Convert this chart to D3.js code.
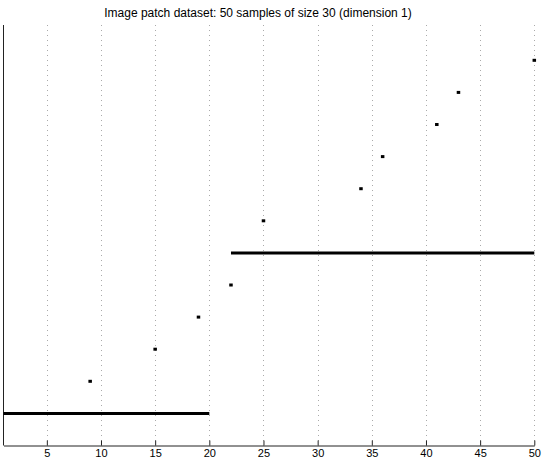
<!DOCTYPE html>
<html>
<head>
<meta charset="utf-8">
<script src="https://cdn.jsdelivr.net/npm/d3@7"></script>
<style>
  body { margin: 0; background: #fff; }
  text { font-family: "Liberation Sans", Arial, sans-serif; }
</style>
</head>
<body>
<div id="chart"></div>
<script>
var width = 545,
    height = 461;

// horizontal segments (sample index from / to, level)
var segStart = [1, 22],
    segEnd = [20, 50],
    segLevel = [1, 6];

// single samples
var pointX = [9, 15, 19, 22, 25, 34, 36, 41, 43, 50],
    pointLevel = [2, 3, 4, 5, 7, 8, 9, 10, 11, 12];

var xTicks = [5, 10, 15, 20, 25, 30, 35, 40, 45, 50];
var title = 'Image patch dataset: 50 samples of size 30 (dimension 1)';

var x = d3.scaleLinear().domain([1, 50]).range([3.5, 534.3]);
var y = d3.scaleLinear().domain([0, 13.1]).range([445.5, 25]);

var svg = d3.select('#chart').append('svg')
    .attr('width', width).attr('height', height);

// dotted grid
svg.append('g').selectAll('line').data(xTicks).enter().append('line')
    .attr('x1', d => Math.round(x(d)) + 0.5).attr('x2', d => Math.round(x(d)) + 0.5)
    .attr('y1', y.range()[1]).attr('y2', y.range()[0])
    .attr('stroke', '#aaa').attr('stroke-width', 1)
    .attr('stroke-dasharray', '1,4');

// x axis, ticks pointing up
var xAxis = svg.append('g')
    .attr('transform', 'translate(0,' + y(0) + ')')
    .call(d3.axisBottom(x).tickValues(xTicks).tickSizeInner(-5).tickSizeOuter(0).tickPadding(4));
xAxis.select('.domain').attr('stroke', '#222');
xAxis.selectAll('.tick line').attr('stroke', '#222');
xAxis.selectAll('text').attr('font-size', 11).attr('fill', '#000')
    .attr('font-family', '"Liberation Sans", Arial, sans-serif');

// left axis line only
svg.append('line')
    .attr('x1', x(1)).attr('x2', x(1))
    .attr('y1', y.range()[1]).attr('y2', y(0))
    .attr('stroke', '#222').attr('stroke-width', 1);

// segments
svg.append('g').selectAll('line').data(segLevel).enter().append('line')
    .attr('x1', (d, i) => x(segStart[i]))
    .attr('x2', (d, i) => x(segEnd[i]))
    .attr('y1', d => y(d)).attr('y2', d => y(d))
    .attr('stroke', '#000').attr('stroke-width', 3);

// points
svg.append('g').selectAll('rect').data(pointX).enter().append('rect')
    .attr('x', d => x(d) - 1.75)
    .attr('y', (d, i) => y(pointLevel[i]) - 1.5)
    .attr('width', 3.5).attr('height', 3)
    .attr('fill', '#000');

svg.append('text')
    .attr('x', 258).attr('y', 17)
    .attr('text-anchor', 'middle')
    .attr('font-size', 12)
    .text(title);
</script>
</body>
</html>
